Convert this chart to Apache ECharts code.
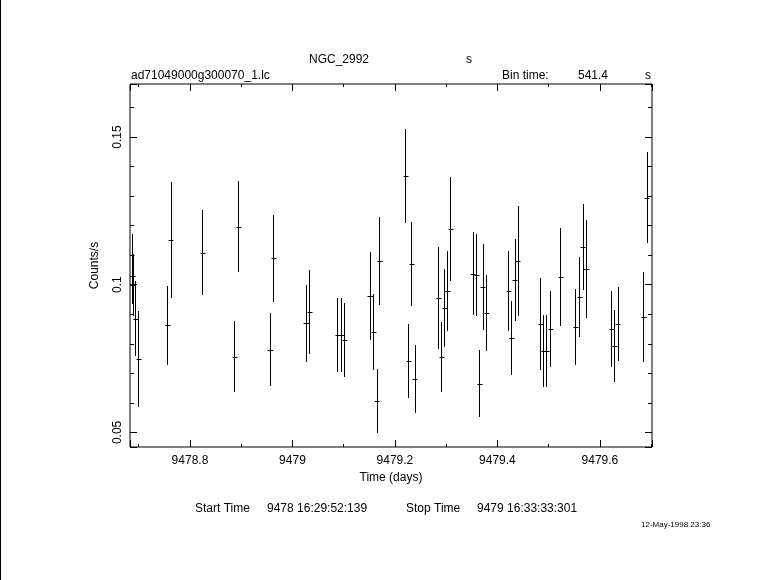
<!DOCTYPE html>
<html>
<head>
<meta charset="utf-8">
<script src="https://cdn.jsdelivr.net/npm/echarts@6/dist/echarts.min.js"></script>
<style>
html,body{margin:0;padding:0;background:#fff;}
#chart{width:781px;height:580px;}
</style>
</head>
<body>
<div id="chart"></div>
<script>
// ---- data (time in days, rate in counts/s, 1-sigma error) ----
const times = [
  9478.6861, 9478.6871, 9478.6885, 9478.6936, 9478.6990,
  9478.7555, 9478.7621, 9478.8238, 9478.8863, 9478.8941,
  9478.9561, 9478.9625, 9479.0264, 9479.0328, 9479.0875,
  9479.0953, 9479.1012, 9479.1514, 9479.1578, 9479.1645,
  9479.1695, 9479.2203, 9479.2262, 9479.2320, 9479.2387,
  9479.2848, 9479.2906, 9479.2965, 9479.3023, 9479.3082,
  9479.3520, 9479.3584, 9479.3648, 9479.3715, 9479.3785,
  9479.4215, 9479.4273, 9479.4340, 9479.4398, 9479.4840,
  9479.4898, 9479.4957, 9479.5029, 9479.5230, 9479.5523,
  9479.5596, 9479.5660, 9479.5727, 9479.6221, 9479.6279,
  9479.6344, 9479.6846, 9479.6910
];
const rates = [
  0.1102, 0.1031, 0.0998, 0.0885, 0.0749,
  0.0862, 0.1151, 0.1108, 0.0756, 0.1197,
  0.0780, 0.1090, 0.0870, 0.0908, 0.0830,
  0.0830, 0.0813, 0.0962, 0.0840, 0.0606,
  0.1080, 0.1368, 0.0742, 0.1070, 0.0681,
  0.0955, 0.0755, 0.0921, 0.0979, 0.1189,
  0.1037, 0.1033, 0.0665, 0.0992, 0.0904,
  0.0979, 0.0821, 0.1016, 0.1080, 0.0867,
  0.0776, 0.0776, 0.0850, 0.1026, 0.0857,
  0.0958, 0.1128, 0.1053, 0.0850, 0.0792,
  0.0867, 0.0891, 0.1295
];
const errors = [
  0.0071, 0.0095, 0.0105, 0.0127, 0.0163,
  0.0134, 0.0196, 0.0144, 0.0120, 0.0154,
  0.0123, 0.0147, 0.0130, 0.0142, 0.0126,
  0.0126, 0.0125, 0.0150, 0.0128, 0.0108,
  0.0150, 0.0160, 0.0126, 0.0143, 0.0114,
  0.0172, 0.0119, 0.0131, 0.0136, 0.0177,
  0.0141, 0.0140, 0.0113, 0.0147, 0.0130,
  0.0136, 0.0125, 0.0138, 0.0187, 0.0155,
  0.0121, 0.0121, 0.0128, 0.0165, 0.0128,
  0.0135, 0.0145, 0.0166, 0.0128, 0.0123,
  0.0126, 0.0153, 0.0155
];
const binTimeSec = 541.4;
const xRange = [9478.683, 9479.7016];
const yRange = [0.04506, 0.16794];
const xMajorStep = 0.2;
const yMajorStep = 0.05;

const titleText = 'NGC_2992';
const headerLeft = 'ad71049000g300070_1.lc';
const startLabel = 'Start Time';
const startValue = '9478 16:29:52:139';
const stopLabel = 'Stop Time';
const stopValue = '9479 16:33:33:301';
const stampText = '12-May-1998 23:36';

// ---- chart ----
const FONT = '"Liberation Sans", Arial, sans-serif';
const halfBin = binTimeSec / 86400 / 2;
const rows = times.map((t, i) => [t, rates[i], errors[i]]);

function isMultiple(v, step) {
  const r = v / step;
  return Math.abs(r - Math.round(r)) < 1e-6;
}
function fmt(v) { return String(parseFloat(v.toFixed(2))); }

function baseAxis(extra) {
  return Object.assign({
    type: 'value',
    scale: true,
    splitLine: { show: false },
    axisLine: { show: false },
    axisLabel: { show: false },
    axisTick: { show: true, inside: true, length: 7, lineStyle: { color: '#000', width: 1 } }
  }, extra);
}

const chart = echarts.init(document.getElementById('chart'), null, { renderer: 'canvas' });
const crisp = v => Math.round(v) + 0.5;

const option = {
  backgroundColor: '#fff',
  animation: false,
  grid: { left: 130, right: 129, top: 84, bottom: 133, show: true, borderColor: '#000', borderWidth: 1, backgroundColor: 'transparent' },
  xAxis: [
    baseAxis({
      min: xRange[0], max: xRange[1], position: 'bottom', splitNumber: 5,
      axisLabel: {
        show: true, color: '#000', fontSize: 12, fontFamily: FONT, margin: 8,
        formatter: v => isMultiple(v, xMajorStep) ? fmt(v) : ''
      },
      name: 'Time (days)', nameLocation: 'middle', nameGap: 23,
      nameTextStyle: { color: '#000', fontSize: 12, fontFamily: FONT }
    }),
    baseAxis({ min: xRange[0], max: xRange[1], position: 'bottom', splitNumber: 10,
      axisTick: { show: true, inside: true, length: 3, lineStyle: { color: '#000', width: 1 } } }),
    baseAxis({ min: xRange[0], max: xRange[1], position: 'top', splitNumber: 5 }),
    baseAxis({ min: xRange[0], max: xRange[1], position: 'top', splitNumber: 10,
      axisTick: { show: true, inside: true, length: 3, lineStyle: { color: '#000', width: 1 } } })
  ],
  yAxis: [
    baseAxis({
      min: yRange[0], max: yRange[1], position: 'left', splitNumber: 3,
      axisLabel: {
        show: true, color: '#000', fontSize: 12, fontFamily: FONT, margin: 6, rotate: 90,
        formatter: v => isMultiple(v, yMajorStep) ? fmt(v) : ''
      },
      name: 'Counts/s', nameLocation: 'middle', nameGap: 29, nameRotate: 90,
      nameTextStyle: { color: '#000', fontSize: 12, fontFamily: FONT }
    }),
    baseAxis({ min: yRange[0], max: yRange[1], position: 'left', splitNumber: 12,
      axisTick: { show: true, inside: true, length: 4, lineStyle: { color: '#000', width: 1 } } }),
    baseAxis({ min: yRange[0], max: yRange[1], position: 'right', splitNumber: 3 }),
    baseAxis({ min: yRange[0], max: yRange[1], position: 'right', splitNumber: 12,
      axisTick: { show: true, inside: true, length: 4, lineStyle: { color: '#000', width: 1 } } })
  ],
  series: [{
    type: 'custom',
    xAxisIndex: 0,
    yAxisIndex: 0,
    clip: true,
    encode: { x: 0, y: 1 },
    data: rows,
    renderItem: function (params, api) {
      const t = api.value(0), v = api.value(1), e = api.value(2);
      const top = api.coord([t, v + e]);
      const bot = api.coord([t, v - e]);
      const l = api.coord([t - halfBin, v]);
      const r = api.coord([t + halfBin, v]);
      const x = crisp(top[0]);
      const yc = crisp(l[1]);
      return {
        type: 'group',
        children: [
          { type: 'line', shape: { x1: x, y1: Math.round(top[1]), x2: x, y2: Math.round(bot[1]) },
            style: { stroke: '#000', lineWidth: 1 } },
          { type: 'line', shape: { x1: Math.round(l[0]) - 0.5, y1: yc, x2: Math.round(r[0]) + 1.5, y2: yc },
            style: { stroke: '#000', lineWidth: 1 } }
        ]
      };
    }
  }],
  graphic: [
    { type: 'line', shape: { x1: 0.5, y1: 0, x2: 0.5, y2: 580 }, style: { stroke: '#000', lineWidth: 1 } },
    { type: 'text', left: 309, top: 54, style: { text: titleText, fill: '#000', font: '12px ' + FONT } },
    { type: 'text', left: 466, top: 54, style: { text: 's', fill: '#000', font: '12px ' + FONT } },
    { type: 'text', left: 131, top: 70, style: { text: headerLeft, fill: '#000', font: '12px ' + FONT } },
    { type: 'text', left: 502, top: 70, style: { text: 'Bin time:', fill: '#000', font: '12px ' + FONT } },
    { type: 'text', left: 578, top: 70, style: { text: String(binTimeSec), fill: '#000', font: '12px ' + FONT } },
    { type: 'text', left: 645, top: 70, style: { text: 's', fill: '#000', font: '12px ' + FONT } },
    { type: 'text', left: 195, top: 503, style: { text: startLabel, fill: '#000', font: '12px ' + FONT } },
    { type: 'text', left: 267, top: 503, style: { text: startValue, fill: '#000', font: '12px ' + FONT } },
    { type: 'text', left: 406, top: 503, style: { text: stopLabel, fill: '#000', font: '12px ' + FONT } },
    { type: 'text', left: 477, top: 503, style: { text: stopValue, fill: '#000', font: '12px ' + FONT } },
    { type: 'text', left: 641, top: 521, style: { text: stampText, fill: '#000', font: '8px ' + FONT } }
  ]
};
chart.setOption(option);
</script>
</body>
</html>
